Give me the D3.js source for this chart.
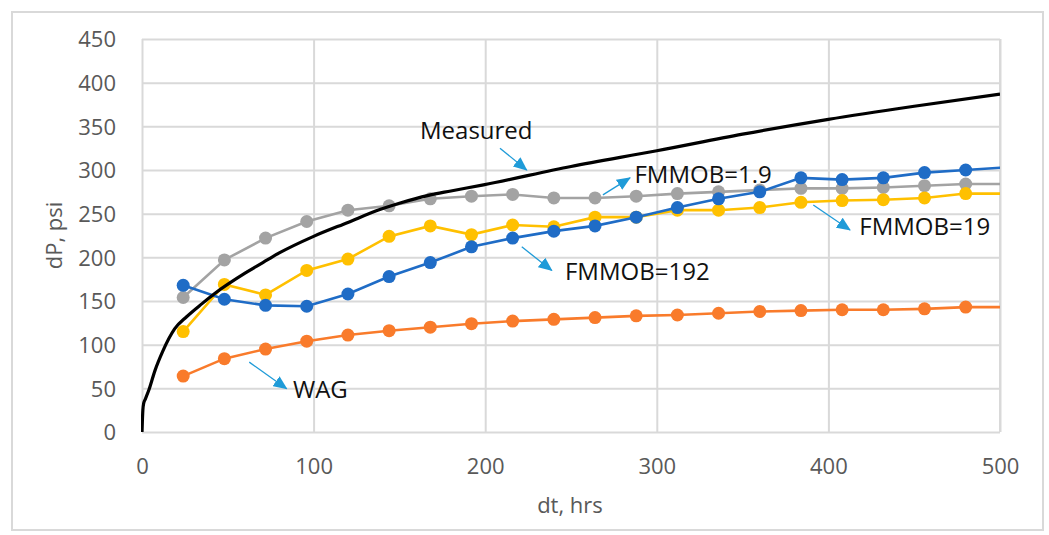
<!DOCTYPE html>
<meta charset="utf-8">
<html>
<head>
    <title>dP vs dt</title>
    <script src="https://d3js.org/d3.v7.min.js"></script>
    <style>
        body { margin: 0; background: #fff; }
        text { font-family: "Open Sans", "Noto Sans", sans-serif; }
    </style>
</head>
<body>
<script>
    // simulation times (hrs), one point per day
    var dt = [24, 48, 72, 96, 120, 144, 168, 192, 216, 240, 264, 288, 312, 336, 360, 384, 408, 432, 456, 480, 504];

    var wag = [64, 84, 95, 104, 111, 116, 120, 124, 127, 129, 131, 133, 134, 136, 138, 139, 140, 140, 141, 143, 143];
    var fm19 = [115, 169, 157, 185, 198, 224, 236, 226, 237, 235, 246, 246, 254, 254, 257, 263, 265, 266, 268, 273, 273];
    var fm192 = [168, 152, 145, 144, 158, 178, 194, 212, 222, 230, 236, 246, 257, 267, 275, 291, 289, 291, 297, 300, 303];
    var fm1_9 = [154, 197, 222, 241, 254, 259, 267, 270, 272, 268, 268, 270, 273, 275, 277, 279, 279, 280, 282, 284, 284];

    // measured curve
    var measDt = [0, 0.5, 1, 2, 4, 7.5, 12, 19, 26, 35, 42, 61, 73, 80, 100, 120, 139, 150, 167, 180, 199, 250, 300, 350, 400, 450, 500];
    var measDp = [0, 25, 33, 38, 48, 70, 92, 118, 132, 147, 158, 183, 197, 205, 224, 240, 255, 262, 271, 276, 283, 304, 322, 341, 358, 373, 387];

    var xTicks = [0, 100, 200, 300, 400, 500];
    var yTicks = [0, 50, 100, 150, 200, 250, 300, 350, 400, 450];

    // label, text anchor (dt, dP), arrow from, arrow to
    var labels = ["Measured", "FMMOB=1.9", "FMMOB=192", "FMMOB=19", "WAG"];
    var labelAt = [[162, 336], [287, 285], [246.5, 174], [418, 225.5], [88, 39.5]];
    var arrowFrom = [[208.6, 325], [268.6, 271.5], [221.3, 212], [391.2, 260], [62.5, 80]];
    var arrowTo = [[224.2, 300], [284.4, 291], [238.8, 185], [412.6, 231.3], [84.3, 49.6]];

    var width = 1049, height = 535;
    var margin = { top: 39, right: 49, bottom: 103, left: 142 };
    var w = width - margin.left - margin.right,
        h = height - margin.top - margin.bottom;

    var svg = d3.select("body").append("svg")
        .attr("width", width)
        .attr("height", height);

    // chart frame
    svg.append("rect")
        .attr("x", 12).attr("y", 12)
        .attr("width", 1031).attr("height", 518)
        .attr("fill", "none")
        .attr("stroke", "#d9d9d9")
        .attr("stroke-width", 2);

    var x = d3.scaleLinear().domain([0, 500]).range([0, w]);
    var y = d3.scaleLinear().domain([0, 450]).range([h, 0]);

    var g = svg.append("g")
        .attr("transform", "translate(" + margin.left + "," + margin.top + ")");

    svg.append("defs").append("clipPath").attr("id", "plotClip")
        .append("rect").attr("x", -1).attr("y", -2).attr("width", w + 1).attr("height", h + 3);

    svg.select("defs").append("marker")
        .attr("id", "arrowHead")
        .attr("markerUnits", "userSpaceOnUse")
        .attr("viewBox", "0 0 14 12")
        .attr("refX", 13).attr("refY", 6)
        .attr("markerWidth", 14).attr("markerHeight", 12)
        .attr("orient", "auto")
        .append("path")
        .attr("d", "M0,0 L14,6 L0,12 Z")
        .attr("fill", "#1f9bd8");

    // gridlines
    var xAxis = g.append("g")
        .attr("transform", "translate(0," + h + ")")
        .call(d3.axisBottom(x).tickValues(xTicks).tickSize(-h).tickPadding(26));
    var yAxis = g.append("g")
        .call(d3.axisLeft(y).tickValues(yTicks).tickSize(-w).tickPadding(26));

    [xAxis, yAxis].forEach(function (a) {
        a.select(".domain").remove();
        a.selectAll("line").attr("stroke", "#d9d9d9").attr("stroke-width", 2);
        a.selectAll("text")
            .attr("fill", "#595959")
            .style("font-size", "22px");
    });
    yAxis.selectAll("text").attr("dy", "0.36em");
    // right border of plot area
    g.append("line")
        .attr("x1", w).attr("x2", w).attr("y1", 0).attr("y2", h)
        .attr("stroke", "#d9d9d9").attr("stroke-width", 2);

    // axis titles
    svg.append("text")
        .attr("x", margin.left + w / 2 - 1)
        .attr("y", 513)
        .attr("text-anchor", "middle")
        .attr("fill", "#595959")
        .style("font-size", "22px")
        .text("dt, hrs");
    svg.append("text")
        .attr("transform", "translate(62," + (margin.top + h / 2) + ") rotate(-90)")
        .attr("text-anchor", "middle")
        .attr("fill", "#595959")
        .style("font-size", "22px")
        .text("dP, psi");

    var plot = g.append("g").attr("clip-path", "url(#plotClip)");

    var series = [
        { vals: wag, color: "#f97b2b" },
        { vals: fm1_9, color: "#a3a3a3" },
        { vals: fm19, color: "#ffc000" },
        { vals: fm192, color: "#1f6cc6" }
    ];

    var line = d3.line()
        .x(function (d) { return x(d[0]); })
        .y(function (d) { return y(d[1]); });

    series.forEach(function (s) {
        var pts = d3.zip(dt, s.vals);
        plot.append("path")
            .datum(pts)
            .attr("fill", "none")
            .attr("stroke", s.color)
            .attr("stroke-width", 2.6)
            .attr("d", line);
        plot.selectAll(null)
            .data(pts)
            .enter().append("circle")
            .attr("cx", function (d) { return x(d[0]); })
            .attr("cy", function (d) { return y(d[1]); })
            .attr("r", 6.5)
            .attr("fill", s.color);
    });

    plot.append("path")
        .datum(d3.zip(measDt, measDp))
        .attr("fill", "none")
        .attr("stroke", "#000")
        .attr("stroke-width", 3.2)
        .attr("stroke-linejoin", "round")
        .attr("d", line.curve(d3.curveMonotoneX));

    // annotations
    labels.forEach(function (t, i) {
        g.append("line")
            .attr("x1", x(arrowFrom[i][0])).attr("y1", y(arrowFrom[i][1]))
            .attr("x2", x(arrowTo[i][0])).attr("y2", y(arrowTo[i][1]))
            .attr("stroke", "#1f9bd8")
            .attr("stroke-width", 1.3)
            .attr("marker-end", "url(#arrowHead)");
        g.append("text")
            .attr("x", x(labelAt[i][0]))
            .attr("y", y(labelAt[i][1]))
            .attr("fill", "#111")
            .style("font-size", "24px")
            .text(t);
    });
</script>
</body>
</html>
